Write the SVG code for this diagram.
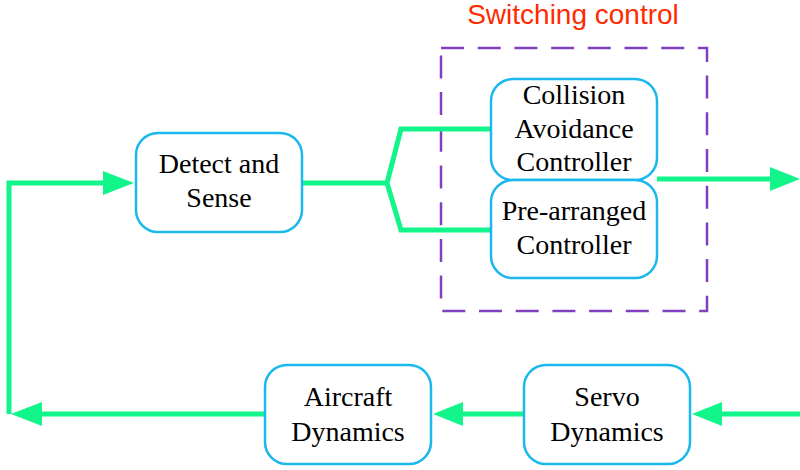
<svg xmlns="http://www.w3.org/2000/svg" width="800" height="470" viewBox="0 0 800 470">
<defs>
<style>
.box{fill:#fff;stroke:#1ab8ec;stroke-width:2.5}
.lbl{font-family:"Liberation Serif","Times New Roman",serif;font-size:28px;fill:#000;text-anchor:middle}
.ln{fill:none;stroke:#12f58a;stroke-width:5}
.ah{fill:#12f58a}
</style>
</defs>
<rect x="441" y="48" width="266" height="263" fill="none" stroke="#8040bf" stroke-width="2.5" stroke-dasharray="23,13.7"/>
<text x="573" y="24" font-family="Liberation Sans, Arial, sans-serif" font-size="28" fill="#ff2a00" text-anchor="middle">Switching control</text>
<g id="connectors">
<polyline class="ln" points="9,414 9,183 105,183"/>
<polygon class="ah" points="134,183 103,171 103,195"/>
<polyline class="ln" points="302,183 387,183"/>
<polyline class="ln" points="491,129 401,129 387,183 401,230 491,230"/>
<polyline class="ln" points="657,179 776,179"/>
<polygon class="ah" points="800,179 770,167 770,191"/>
<polyline class="ln" points="800,414 720,414"/>
<polygon class="ah" points="692,414 722,402 722,426"/>
<polyline class="ln" points="524,414 460,414"/>
<polygon class="ah" points="433,414 463,402 463,426"/>
<polyline class="ln" points="265,414 40,414"/>
<polygon class="ah" points="11,414 42,402 42,426"/>
</g>
<g id="detect"><rect class="box" x="136" y="133" width="166" height="99" rx="22"/><text class="lbl" x="219" y="173">Detect and</text><text class="lbl" x="219" y="207">Sense</text></g>
<g id="collision"><rect class="box" x="491" y="79" width="166" height="101" rx="22"/><text class="lbl" x="574" y="104">Collision</text><text class="lbl" x="574" y="138">Avoidance</text><text class="lbl" x="574" y="171">Controller</text></g>
<g id="prearranged"><rect class="box" x="491" y="180" width="166" height="98" rx="22"/><text class="lbl" x="574" y="220">Pre-arranged</text><text class="lbl" x="574" y="254">Controller</text></g>
<g id="aircraft"><rect class="box" x="265" y="365" width="166" height="99" rx="22"/><text class="lbl" x="348" y="406">Aircraft</text><text class="lbl" x="348" y="441">Dynamics</text></g>
<g id="servo"><rect class="box" x="524" y="365" width="166" height="99" rx="22"/><text class="lbl" x="607" y="406">Servo</text><text class="lbl" x="607" y="441">Dynamics</text></g>
</svg>
